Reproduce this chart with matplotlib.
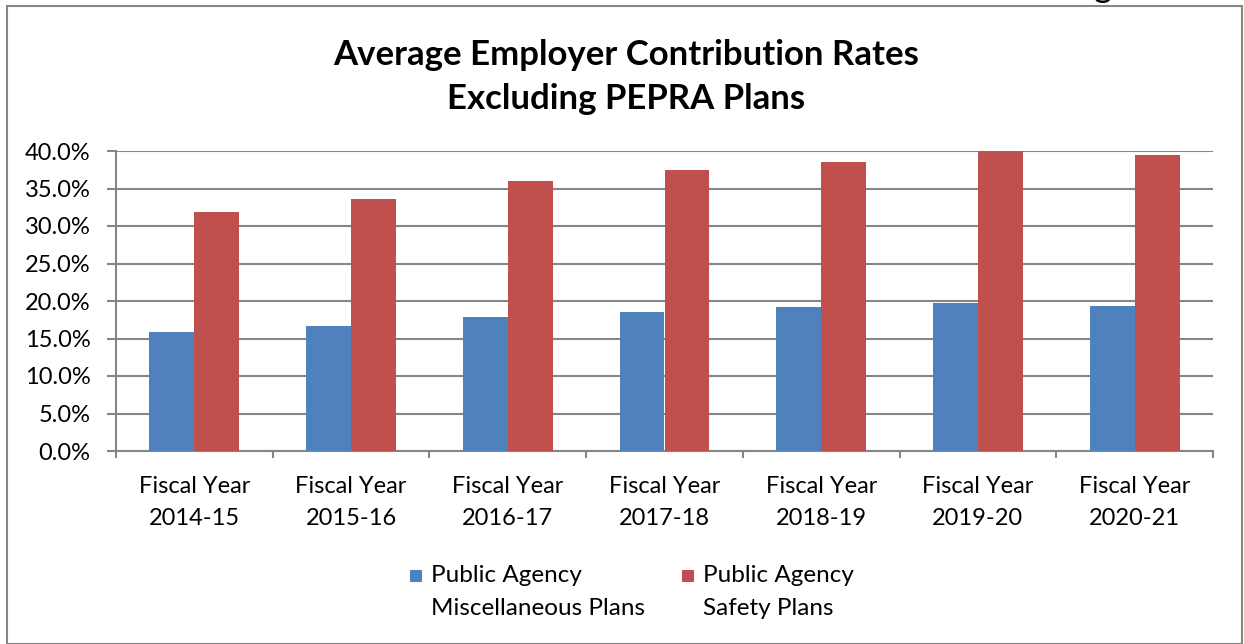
import matplotlib.pyplot as plt
import matplotlib.patches as patches
from matplotlib.container import BarContainer
from matplotlib.legend_handler import HandlerPatch, update_from_first_child
import numpy as np

plt.rcParams['font.family'] = ['Lato', 'DejaVu Sans']

years = ["2014-15", "2015-16", "2016-17", "2017-18", "2018-19", "2019-20", "2020-21"]
misc = [15.9, 16.7, 17.9, 18.5, 19.2, 19.7, 19.3]
safety = [31.9, 33.6, 36.0, 37.5, 38.5, 40.0, 39.5]
labels = ["Public Agency\nMiscellaneous Plans", "Public Agency\nSafety Plans"]

fig = plt.figure(figsize=(12.44, 6.44), dpi=100)
ax = fig.add_axes([116/1244, 193/644, (1213-116)/1244, 300/644])

x = np.arange(len(years))
w = 0.287
ax.bar(x - w/2, misc, w, color="#4F81BD", label=labels[0], zorder=3)
ax.bar(x + w/2, safety, w, color="#C0504D", label=labels[1], zorder=3)

ax.set_xlim(-0.5, len(years) - 0.5)
ax.set_ylim(0, 40)
ax.set_yticks(np.arange(0, 41, 5))
ax.set_yticklabels([f"{v:.1f}%" for v in np.arange(0, 41, 5)], fontsize=17)
ax.yaxis.grid(True, color="#868686", lw=1.5, zorder=0)

ax.set_xticks(np.arange(-0.5, len(years)), minor=False)
ax.set_xticklabels([])
ax.set_xticks(x, minor=True)
ax.set_xticklabels([f"Fiscal Year\n{y}" for y in years], minor=True, fontsize=17,
                   linespacing=1.62)
ax.tick_params(axis="x", which="major", length=5, width=1.5, color="#868686", direction="out")
ax.tick_params(axis="x", which="minor", length=0, pad=18)
ax.tick_params(axis="y", length=6.5, width=1.5, color="#868686", pad=12)

for s in ["top", "right"]:
    ax.spines[s].set_visible(False)
for s in ["left", "bottom"]:
    ax.spines[s].set_color("#868686")
    ax.spines[s].set_linewidth(1.5)

fig.text(0.503, 1 - 77/644, "Average Employer Contribution Rates\nExcluding PEPRA Plans",
         ha="center", va="center", fontsize=25, fontweight="bold", linespacing=1.45)


def top_square(legend, orig_handle, xdescent, ydescent, width, height, fontsize):
    sq = 12 * 72 / 100
    return patches.Rectangle((-xdescent, -ydescent + height - sq), sq, sq)


leg = fig.legend(loc="center", bbox_to_anchor=(632/1244, 1 - 592/644), ncol=2, frameon=False,
                 fontsize=17.5, handlelength=0.6, handleheight=2.5, handletextpad=0.26,
                 columnspacing=1.52,
                 handler_map={BarContainer: HandlerPatch(patch_func=top_square,
                                                         update_func=update_from_first_child)})
for t in leg.get_texts():
    t.set_linespacing(1.7)

# outer frame of the chart
fig.patches.append(patches.Rectangle((7/1244, 0), (1242-7)/1244, 1 - 6/644,
                                     transform=fig.transFigure, fill=False,
                                     edgecolor="#868686", lw=1.5))
fig.text(1103/1244, 1 + 3/644, "g", ha="center", va="baseline", fontsize=25)

fig.savefig("out.png", dpi=100)
